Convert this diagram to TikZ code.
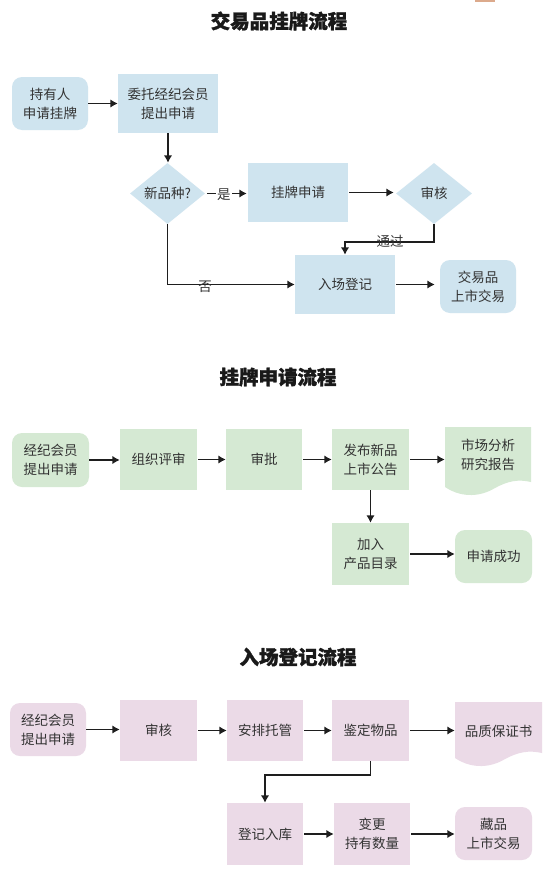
\documentclass[tikz,border=0pt]{standalone}
\usepackage{fontspec}
\newfontfamily\cjk{Noto Sans CJK SC}
\newfontfamily\cjkt[FakeBold=1.5]{Noto Sans CJK SC}
\usetikzlibrary{shapes.geometric,arrows.meta}
\definecolor{bluef}{HTML}{CFE4EF}
\definecolor{greenf}{HTML}{D5E9D3}
\definecolor{pinkf}{HTML}{EBDAE7}
\definecolor{txt}{HTML}{333333}
\definecolor{arr}{HTML}{1E1E1E}
\definecolor{tanc}{HTML}{DCAA8C}
\begin{document}
\begin{tikzpicture}[x=1pt,y=-1pt,
  box/.style={fill=#1,draw=none,inner sep=0pt,align=center,text=txt,
    font=\cjk\fontsize{13.5}{19}\selectfont},
  rbox/.style={box=#1,rounded corners=10pt},
  dia/.style={diamond,fill=#1,draw=none,inner sep=0pt,aspect=1.23,text=txt,
    font=\cjk\fontsize{13.5}{19}\selectfont},
  docbox/.style={draw=none,inner sep=0pt,align=center,text=txt,
    font=\cjk\fontsize{13.5}{19}\selectfont},
  ttl/.style={font=\cjkt\bfseries\fontsize{19.5}{22}\selectfont,text=black!90},
  lbl/.style={font=\cjk\fontsize{13.5}{15}\selectfont,text=txt,inner sep=1pt},
  arrow/.style={draw=arr,line width=1.9pt,-{Latex[length=7.5pt,width=8.5pt]}},
]
\useasboundingbox (0,0) rectangle (545,870);
\fill[white] (0,0) rectangle (545,870);
\fill[tanc] (475,0) rectangle (495,2);

% ---------------- Section 1
\node[ttl] (t1) at (279,21) {交易品挂牌流程};
\node[rbox=bluef,minimum width=76pt,minimum height=53pt] (a1) at (50,103.5) {持有人\\申请挂牌};
\node[box=bluef,minimum width=100pt,minimum height=59pt] (a2) at (168,103.5) {委托经纪会员\\提出申请};
\node[dia=bluef,minimum width=75pt,minimum height=61pt] (d1) at (167.5,193.5) {新品种?};
\node[box=bluef,minimum width=100pt,minimum height=59pt] (b) at (298,192.5) {挂牌申请};
\node[dia=bluef,minimum width=76pt,minimum height=61pt] (d2) at (434,193.5) {审核};
\node[box=bluef,minimum width=100pt,minimum height=59pt] (c) at (345,284.5) {入场登记};
\node[rbox=bluef,minimum width=76pt,minimum height=53pt] (e) at (478,286.5) {交易品\\上市交易};

\draw[arrow] (a1.east) -- (a2.west);
\draw[arrow] (a2.south) -- (a2.south |- d1.north);
\draw[arrow] ([xshift=2pt]d1.east) -- node[lbl,fill=white,pos=0.42,yshift=-1.5pt] (ys) {是} ([xshift=-1pt]d1.east -| b.west);
\draw[arrow] ([xshift=1pt]b.east) -- ([xshift=-2pt]b.east -| d2.west);
\draw[arrow] (d2.south) -- ++(0,18) -| (c.north);
\node[lbl] (tg) at (390,241.5) {通过};
\draw[arrow] (d1.south) |- (c.west);
\node[lbl] (no) at (205,287) {否};
\draw[arrow,shorten >=5pt] ([xshift=1pt]c.east) -- (c.east -| e.west);

% ---------------- Section 2
\node[ttl] (t2) at (278,377) {挂牌申请流程};
\node[rbox=greenf,minimum width=77pt,minimum height=54pt] (g1) at (50.5,460) {经纪会员\\提出申请};
\node[box=greenf,minimum width=77pt,minimum height=61pt] (g2) at (158.5,459.5) {组织评审};
\node[box=greenf,minimum width=76pt,minimum height=61pt] (g3) at (264,459.5) {审批};
\node[box=greenf,minimum width=77pt,minimum height=61pt] (g4) at (370.5,459.5) {发布新品\\上市公告};
\fill[greenf] (445,427) -- (531,427) -- (531,482) .. controls (518,479) and (508,481) .. (495,488)
  .. controls (482,496) and (463,499) .. (445,487) -- cycle;
\node[docbox,minimum width=86pt,minimum height=56pt] (g5) at (488,455) {市场分析\\研究报告};
\node[box=greenf,minimum width=77pt,minimum height=62pt] (g6) at (370.5,554) {加入\\产品目录};
\node[rbox=greenf,minimum width=77pt,minimum height=53pt] (g7) at (493.5,556.5) {申请成功};

\draw[arrow] (g1.east) -- (g1.east -| g2.west);
\draw[arrow] ([xshift=1pt]g2.east) -- (g3.west);
\draw[arrow] ([xshift=1pt]g3.east) -- (g4.west);
\draw[arrow] ([xshift=1pt]g4.east) -- (g4.east -| g5.west);
\draw[arrow] (g4.south) -- (g6.north);
\draw[arrow] ([xshift=1pt]g6.east) -- (g6.east -| g7.west);

% ---------------- Section 3
\node[ttl] (t3) at (298,657) {入场登记流程};
\node[rbox=pinkf,minimum width=76pt,minimum height=53pt] (p1) at (48,729.5) {经纪会员\\提出申请};
\node[box=pinkf,minimum width=77pt,minimum height=61pt] (p2) at (158.5,730.5) {审核};
\node[box=pinkf,minimum width=76pt,minimum height=61pt] (p3) at (265,730.5) {安排托管};
\node[box=pinkf,minimum width=77pt,minimum height=61pt] (p4) at (370.5,730.5) {鉴定物品};
\fill[pinkf] (455,702) -- (542,702) -- (542,753) .. controls (529,750) and (518,752) .. (505,759)
  .. controls (492,767) and (473,770) .. (455,758) -- cycle;
\node[docbox,minimum width=87pt,minimum height=56pt] (p5) at (498.5,731) {品质保证书};
\node[box=pinkf,minimum width=76pt,minimum height=62pt] (p6) at (265,834) {登记入库};
\node[box=pinkf,minimum width=76pt,minimum height=62pt] (p7) at (372,834) {变更\\持有数量};
\node[rbox=pinkf,minimum width=77pt,minimum height=53pt] (p8) at (493.5,833.5) {藏品\\上市交易};

\draw[arrow] (p1.east) -- (p1.east -| p2.west);
\draw[arrow] ([xshift=1pt]p2.east) -- (p3.west);
\draw[arrow] ([xshift=1pt]p3.east) -- (p4.west);
\draw[arrow] ([xshift=1pt]p4.east) -- (p4.east -| p5.west);
\draw[arrow] (p4.south) -- ++(0,14) -| (p6.north);
\draw[arrow] ([xshift=1pt]p6.east) -- (p7.west);
\draw[arrow] ([xshift=1pt]p7.east) -- (p7.east -| p8.west);
\end{tikzpicture}
\end{document}
